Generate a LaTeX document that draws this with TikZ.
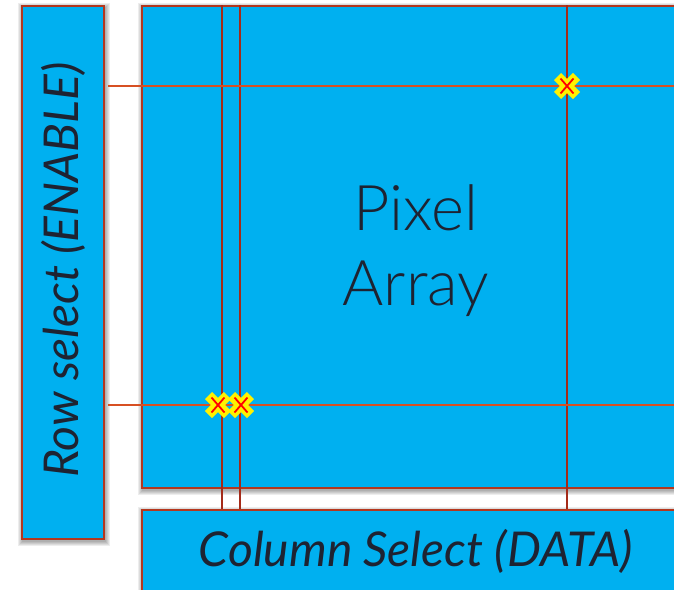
\documentclass[tikz,border=0pt]{standalone}
\usepackage{fontspec}
\setmainfont{Lato}
\newfontfamily\latolight{Lato Light}
\definecolor{panelblue}{RGB}{0,176,240}
\definecolor{boxred}{RGB}{180,55,30}
\definecolor{vred}{RGB}{165,42,24}
\definecolor{hred}{RGB}{215,80,35}
\definecolor{txt}{RGB}{30,35,50}
\tikzset{
  panel/.style={draw=boxred, line width=2pt, fill=panelblue, inner sep=0pt, anchor=north west},
  vline/.style={draw=vred, line width=2pt},
  hline/.style={draw=hred, line width=2pt},
  ylwx/.style={draw=yellow, line width=10pt},
  redx/.style={draw=red, line width=1.8pt},
  lbl/.style={text=txt, inner sep=0pt}
}
\newcommand\softshade[4]{%
  \foreach \k in {1,...,5}{%
    \fill[black, opacity=0.07] (#1+2-\k,#2+3-\k) rectangle (#3+2+\k,#4+3+\k);}}
\newcommand\markx[2]{%
  \begin{scope}[shift={(#1,#2)}]
    \draw[ylwx] (-9.5,-9.5) -- (9.5,9.5);
    \draw[ylwx] (-9.5,9.5) -- (9.5,-9.5);
    \draw[redx] (-6.5,-7.5) -- (6.5,7.5);
    \draw[redx] (-6.5,7.5) -- (6.5,-7.5);
  \end{scope}}
\begin{document}
\begin{tikzpicture}[x=1pt,y=-1pt]
\clip (0,0) rectangle (674,589);
\fill[white] (0,0) rectangle (674,589);
% shadows
\softshade{21}{5}{103}{538}
\softshade{141}{5}{700}{487}
\softshade{141}{509}{700}{600}
% panels
\node[panel, minimum width=82pt, minimum height=533pt] (rowsel) at (21,5) {};
\node[panel, minimum width=559pt, minimum height=482pt] (pixarr) at (141,5) {};
% wiring coordinates
\coordinate (h1s) at (108,86);  \coordinate (h1e) at (680,86);
\coordinate (h2s) at (108,405); \coordinate (h2e) at (680,405);
\coordinate (v1s) at (222,5);   \coordinate (v1e) at (222,509);
\coordinate (v2s) at (240,5);   \coordinate (v2e) at (240,509);
\coordinate (v3s) at (567,5);   \coordinate (v3e) at (567,509);
\draw[vline] (v1s) -- (v1e);
\draw[vline] (v2s) -- (v2e);
\draw[vline] (v3s) -- (v3e);
\draw[hline] (h1s) -- (h1e);
\draw[hline] (h2s) -- (h2e);
\node[panel, minimum width=559pt, minimum height=91pt] (colsel) at (141,509) {};
% labels
\node[lbl, rotate=90, font=\fontsize{48}{56}\selectfont\itshape] (rowtxt) at (63,270) {Row select (ENABLE)};
\node[lbl, font=\fontsize{48}{56}\selectfont\itshape] (coltxt) at (416,551) {Column Select (DATA)};
\node[lbl, align=center, font=\fontsize{63}{75}\latolight] (pixtxt) at (416,251) {Pixel\\Array};
% markers
\markx{567}{86}
\markx{218}{405}
\markx{241}{405}
\end{tikzpicture}
\end{document}
